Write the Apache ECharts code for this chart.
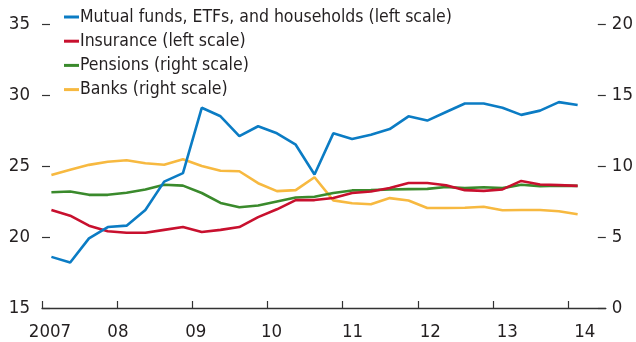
<!DOCTYPE html>
<html>
<head>
<meta charset="utf-8">
<script src="https://cdn.jsdelivr.net/npm/echarts@6/dist/echarts.min.js"></script>
<style>
  html, body { margin: 0; padding: 0; background: #ffffff; }
  #chart { width: 636px; height: 342px; }
</style>
</head>
<body>
<div id="chart"></div>
<script>
// Quarterly observations, 2007Q1 through 2014Q1
var quarters = [
  '2007Q1','2007Q2','2007Q3','2007Q4',
  '2008Q1','2008Q2','2008Q3','2008Q4',
  '2009Q1','2009Q2','2009Q3','2009Q4',
  '2010Q1','2010Q2','2010Q3','2010Q4',
  '2011Q1','2011Q2','2011Q3','2011Q4',
  '2012Q1','2012Q2','2012Q3','2012Q4',
  '2013Q1','2013Q2','2013Q3','2013Q4',
  '2014Q1'
];

// Left scale
var mutualFunds = [
  18.6, 18.2, 19.9, 20.7, 20.8, 21.9, 23.9, 24.5,
  29.1, 28.5, 27.1, 27.8, 27.3, 26.5, 24.4, 27.3,
  26.9, 27.2, 27.6, 28.5, 28.2, 28.8, 29.4, 29.4,
  29.1, 28.6, 28.9, 29.5, 29.3
];
var insurance = [
  21.9, 21.5, 20.8, 20.4, 20.3, 20.3, 20.5, 20.7,
  20.35, 20.5, 20.7, 21.4, 21.95, 22.6, 22.6, 22.75,
  23.1, 23.2, 23.45, 23.8, 23.8, 23.65, 23.3, 23.25,
  23.35, 23.95, 23.7, 23.65, 23.6
];

// Right scale
var pensions = [
  8.15, 8.2, 7.97, 7.97, 8.12, 8.34, 8.68, 8.62,
  8.1, 7.4, 7.1, 7.22, 7.5, 7.78, 7.83, 8.1,
  8.28, 8.3, 8.34, 8.37, 8.39, 8.52, 8.44, 8.5,
  8.44, 8.68, 8.58, 8.62, 8.6
];
var banks = [
  9.37, 9.74, 10.08, 10.3, 10.4, 10.19, 10.09, 10.48,
  10.0, 9.67, 9.63, 8.79, 8.23, 8.3, 9.21, 7.58,
  7.38, 7.31, 7.74, 7.57, 7.04, 7.04, 7.06, 7.13,
  6.88, 6.9, 6.9, 6.81, 6.6
];

var leftTicks = [15, 20, 25, 30, 35];
var rightTicks = [0, 5, 10, 15, 20];
var yearTicks = [2007, 2008, 2009, 2010, 2011, 2012, 2013, 2014];

var seriesNames = [
  'Mutual funds, ETFs, and households (left scale)',
  'Insurance (left scale)',
  'Pensions (right scale)',
  'Banks (right scale)'
];
var seriesColors = ['#0b7cc4', '#c8102e', '#3a8a2c', '#f7b940'];

// Each quarter is plotted at its mid-point on a continuous year axis
function quarterPos(q) {
  var year = parseInt(q.slice(0, 4), 10);
  var n = parseInt(q.slice(5), 10);
  return year + (n - 1) * 0.25 + 0.125;
}
function pairs(values) {
  return values.map(function (v, i) { return [quarterPos(quarters[i]), v]; });
}

var FONT = '"Liberation Sans Narrow", "DejaVu Sans Condensed", "Roboto Condensed", sans-serif';
var TEXT = '#231f20';
var AXIS = '#333333';

var chart = echarts.init(document.getElementById('chart'), null, { renderer: 'canvas' });

// Year labels sit slightly to the right of their tick marks
var yearLabelPos = [2007.106, 2008.01, 2009.045, 2010.054, 2011.13, 2012.166, 2013.19, 2014.22];

chart.setOption({
  animation: false,
  backgroundColor: '#ffffff',
  textStyle: { fontFamily: FONT },
  grid: { left: 42, right: 29, top: 24, bottom: 32, containLabel: false },
  legend: {
    orient: 'vertical',
    left: 59,
    top: 3,
    itemWidth: 15,
    itemHeight: 3,
    itemGap: 6.2,
    icon: 'rect',
    data: seriesNames,
    textStyle: { fontFamily: FONT, fontSize: 17.5, color: TEXT, padding: [0, 0, 0, -4] }
  },
  xAxis: {
    type: 'value',
    min: 2007,
    max: 2014.5,
    interval: 1,
    splitLine: { show: false },
    axisLine: { show: true, lineStyle: { color: AXIS, width: 1.3 } },
    axisTick: {
      show: true, inside: true, length: 7,
      customValues: yearTicks,
      lineStyle: { color: AXIS, width: 1.2 }
    },
    axisLabel: {
      customValues: yearLabelPos,
      margin: 15,
      fontSize: 18.5,
      color: TEXT,
      fontFamily: FONT,
      formatter: function (v) {
        var y = Math.round(v);
        return y === 2007 ? String(y) : String(y).slice(2);
      }
    }
  },
  yAxis: [
    {
      type: 'value',
      position: 'left',
      min: leftTicks[0],
      max: leftTicks[leftTicks.length - 1],
      interval: 5,
      splitLine: { show: false },
      axisLine: { show: false },
      axisTick: { show: true, inside: true, length: 8, lineStyle: { color: AXIS, width: 1.2 } },
      axisLabel: { margin: 12, fontSize: 18.5, color: TEXT, fontFamily: FONT }
    },
    {
      type: 'value',
      position: 'right',
      min: rightTicks[0],
      max: rightTicks[rightTicks.length - 1],
      interval: 5,
      splitLine: { show: false },
      axisLine: { show: false },
      axisTick: { show: true, inside: true, length: 8, lineStyle: { color: AXIS, width: 1.2 } },
      axisLabel: { margin: 6, fontSize: 18.5, color: TEXT, fontFamily: FONT }
    }
  ],
  series: [
    { name: seriesNames[0], type: 'line', yAxisIndex: 0, data: pairs(mutualFunds) },
    { name: seriesNames[1], type: 'line', yAxisIndex: 0, data: pairs(insurance) },
    { name: seriesNames[2], type: 'line', yAxisIndex: 1, data: pairs(pensions) },
    { name: seriesNames[3], type: 'line', yAxisIndex: 1, data: pairs(banks) }
  ].map(function (s, i) {
    s.showSymbol = false;
    s.symbol = 'none';
    s.color = seriesColors[i];
    s.lineStyle = { color: seriesColors[i], width: 2.6 };
    s.z = [4, 3, 2, 1][i];
    return s;
  })
});
</script>
</body>
</html>
